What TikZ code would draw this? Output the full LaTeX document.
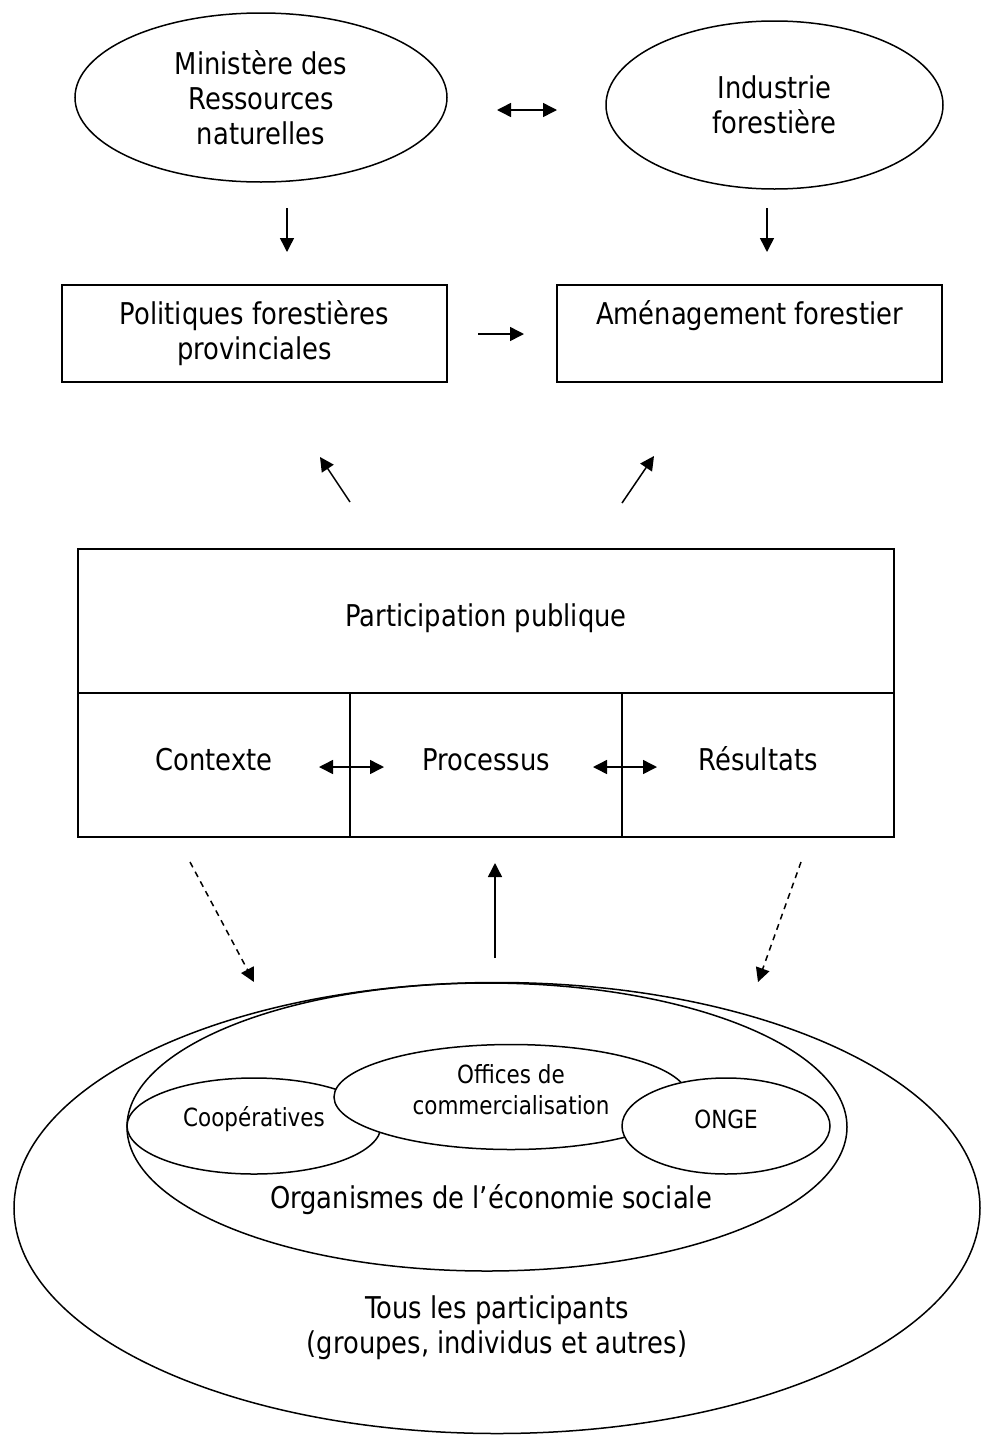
\documentclass[tikz,border=0pt]{standalone}
\usepackage{fontspec}
\setmainfont[FakeStretch=0.86]{DejaVu Sans}
\usetikzlibrary{shapes.geometric,arrows.meta}

\begin{document}
\begin{tikzpicture}[x=0.5pt,y=-0.5pt,line width=0.75pt,
  bulle/.style={draw,ellipse,inner sep=0pt,align=center,font=\fontsize{15}{17.5}\selectfont},
  petitebulle/.style={draw,ellipse,fill=white,inner sep=0pt},
  boite/.style={draw,rectangle,inner sep=0pt,align=center,font=\fontsize{15}{17.5}\selectfont},
  cellule/.style={boite,minimum width=136pt,minimum height=72pt,text height=11pt,text depth=6pt},
  texte/.style={inner sep=0pt,align=center,font=\fontsize{15}{17.5}\selectfont},
  petittexte/.style={inner sep=0pt,align=center,font=\fontsize{12.5}{15.5}\selectfont},
  fleche/.style={-{Triangle[length=7pt,width=7pt]}},
  dfleche/.style={{Triangle[length=7pt,width=7pt]}-{Triangle[length=7pt,width=7pt]}},
  tirets/.style={fleche,dash pattern=on 3pt off 2.5pt}]
\useasboundingbox (0,0) rectangle (982,1435);
%haut
\node[bulle,minimum width=186pt,minimum height=84.5pt] (mrn) at (261,97.5)
  {Ministère des\\Ressources\\naturelles};
\node[bulle,minimum width=168.5pt,minimum height=84pt] (indus) at (774.5,105)
  {Industrie\\forestière};
\node[boite,minimum width=192.5pt,minimum height=48.5pt] (polit) at (254.5,333.5)
  {Politiques forestières\\provinciales};
\node[boite,minimum width=192.5pt,minimum height=48.5pt] (amenag) at (749.5,333.5) {};
\node[texte] (amenagtxt) at (749.5,316) {Aménagement forestier};
%participation
\node[boite,minimum width=408pt,minimum height=72pt,text height=11pt,text depth=6pt] (partic) at (486,621)
  {Participation publique};
\node[cellule] (ctx) at (214,765) {Contexte};
\node[cellule] (proc) at (486,765) {Processus};
\node[cellule] (res) at (758,765) {Résultats};
%bas
\node[draw,ellipse,inner sep=0pt,minimum width=483pt,minimum height=225.5pt] (tous) at (497,1208) {};
\node[texte] (toustxt) at (497,1328) {Tous les participants\\(groupes, individus et autres)};
\node[draw,ellipse,inner sep=0pt,minimum width=360pt,minimum height=144pt] (orga) at (487,1127) {};
\node[texte] (orgatxt) at (491,1200) {Organismes de l’économie sociale};
\node[petitebulle,minimum width=127pt,minimum height=48pt] (coop) at (254,1126) {};
\node[petitebulle,minimum width=177pt,minimum height=52.5pt] (offices) at (511,1097) {};
\node[petitebulle,minimum width=104pt,minimum height=48pt] (onge) at (726,1126) {};
\node[petittexte] (cooptxt) at (254,1119) {Coopératives};
\node[petittexte] (officestxt) at (511,1090) {Offices de\\commercialisation};
\node[petittexte] (ongetxt) at (726,1119) {ONGE};
% fleches
\coordinate (h1) at (497,110);  \coordinate (h2) at (557,110);
\coordinate (g1) at (287,208);  \coordinate (g2) at (287,252);
\coordinate (d1) at (767,208);  \coordinate (d2) at (767,252);
\coordinate (m1) at (478,334);  \coordinate (m2) at (524,334);
\coordinate (p1) at (350,502);  \coordinate (p2) at (320,457);
\coordinate (q1) at (622,503);  \coordinate (q2) at (654,456);
\coordinate (c1) at (319,767);  \coordinate (c2) at (384,767);
\coordinate (r1) at (593,767);  \coordinate (r2) at (657,767);
\coordinate (t1) at (190,862);  \coordinate (t2) at (254,982);
\coordinate (u1) at (801,862);  \coordinate (u2) at (758,982);
\coordinate (v1) at (495,958);  \coordinate (v2) at (495,863);
\draw[dfleche] (h1) -- (h2);
\draw[fleche] (g1) -- (g2);
\draw[fleche] (d1) -- (d2);
\draw[fleche] (m1) -- (m2);
\draw[fleche] (p1) -- (p2);
\draw[fleche] (q1) -- (q2);
\draw[dfleche] (c1) -- (c2);
\draw[dfleche] (r1) -- (r2);
\draw[tirets] (t1) -- (t2);
\draw[tirets] (u1) -- (u2);
\draw[fleche] (v1) -- (v2);
\end{tikzpicture}
\end{document}
